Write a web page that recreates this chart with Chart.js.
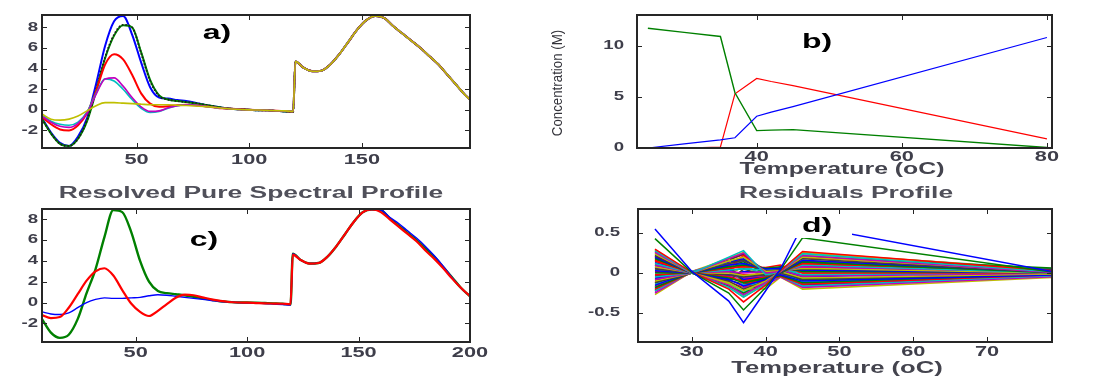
<!DOCTYPE html>
<html>
<head>
<meta charset="utf-8">
<script src="https://cdn.jsdelivr.net/npm/chart.js@4.4.1/dist/chart.umd.min.js"></script>
<style>
  html, body { margin: 0; padding: 0; background: #fff; }
  body { width: 1116px; height: 378px; position: relative; overflow: hidden; }
  canvas { position: absolute; }
</style>
</head>
<body>
<canvas id="panelA" width="540" height="185" style="left:0;top:0"></canvas>
<canvas id="panelB" width="576" height="185" style="left:540px;top:0"></canvas>
<canvas id="panelC" width="540" height="193" style="left:0;top:185px"></canvas>
<canvas id="panelD" width="576" height="193" style="left:540px;top:185px"></canvas>
<script>
// ---- spectral axis (channel index) ----
const wavelength = [8,12,16,20,24,28,32,36,40,44,48,52,56,60,64,68,72,76,80,84,88,92,96,100,104,108,112,116,119.5,
                    120.5,124,128,132,136,140,144,148,152,156,160,164,168,172,176,180,184,188,192,196,200];

// ---- a) measured spectra, first segment (8 .. 119.5) ----
const aBlueHead    = [-0.8,-2.2,-3.2,-3.5,-2.6,-0.8,2.5,6.2,8.6,9.1,7.3,4.6,2.2,1.2,1.1,0.95,0.85,0.7,0.5,0.35,0.2,0.1,0.05,0.0,-0.05,-0.05,-0.1,-0.15,-0.2];
const aGreenHead   = [-0.9,-2.3,-3.3,-3.5,-2.8,-1.1,1.8,5.0,7.2,8.2,8.0,5.6,2.9,1.4,1.0,0.85,0.75,0.65,0.5,0.35,0.2,0.1,0.05,0.0,-0.05,-0.05,-0.1,-0.15,-0.2];
const aBlackHead   = [-0.9,-2.3,-3.3,-3.5,-2.8,-1.0,1.9,5.1,7.3,8.25,8.0,5.5,2.8,1.35,1.0,0.85,0.75,0.65,0.5,0.35,0.2,0.1,0.05,0.0,-0.05,-0.05,-0.1,-0.15,-0.2];
const aRedHead     = [-0.7,-1.4,-1.9,-2.0,-1.5,-0.3,1.8,4.4,5.4,4.9,3.4,1.6,0.6,0.3,0.35,0.45,0.5,0.45,0.35,0.25,0.15,0.1,0.05,0.0,-0.02,-0.05,-0.08,-0.12,-0.15];
const aCyanHead    = [-0.5,-1.1,-1.4,-1.5,-1.2,-0.2,1.6,3.0,2.8,2.0,1.0,0.15,-0.25,-0.15,0.15,0.4,0.5,0.45,0.35,0.25,0.15,0.08,0.03,0.0,-0.02,-0.05,-0.08,-0.1,-0.15];
const aMagentaHead = [-0.6,-1.2,-1.6,-1.7,-1.3,-0.3,1.5,3.0,3.1,2.3,1.2,0.3,-0.15,-0.1,0.2,0.4,0.5,0.45,0.35,0.25,0.15,0.08,0.03,0.0,-0.02,-0.05,-0.08,-0.1,-0.15];
const aYellowHead  = [-0.4,-0.9,-1.0,-0.9,-0.6,-0.1,0.4,0.7,0.7,0.65,0.6,0.55,0.5,0.5,0.5,0.45,0.42,0.38,0.32,0.25,0.15,0.08,0.03,0.0,-0.02,-0.05,-0.08,-0.1,-0.15];
// ---- a) second segment (120.5 .. 200), common to all temperatures ----
const aTail        = [4.7,4.1,3.75,3.8,4.4,5.4,6.6,7.8,8.7,9.1,8.9,8.1,7.4,6.7,6.0,5.2,4.4,3.4,2.4,1.4,0.6];

// ---- c) resolved pure spectra ----
const cGreenHead = [-1.6,-2.9,-3.4,-3.1,-1.6,0.9,3.2,6.3,8.9,8.7,6.8,4.0,2.0,1.1,0.9,0.8,0.7,0.55,0.4,0.25,0.12,0.05,0.0,0.0,-0.02,-0.05,-0.08,-0.12,-0.2];
const cRedHead   = [-1.2,-1.5,-1.4,-0.5,0.8,2.1,3.0,3.3,2.6,1.2,-0.1,-0.9,-1.3,-0.8,-0.15,0.45,0.75,0.7,0.5,0.3,0.15,0.05,0.0,-0.02,-0.05,-0.08,-0.1,-0.12,-0.15];
const cBlueHead  = [-0.9,-1.1,-1.15,-1.0,-0.5,0.0,0.3,0.45,0.4,0.4,0.45,0.5,0.65,0.75,0.7,0.6,0.5,0.4,0.3,0.2,0.1,0.05,0.0,-0.03,-0.07,-0.1,-0.15,-0.2,-0.25];
const cGreenTail = [4.7,4.1,3.75,3.8,4.4,5.4,6.6,7.8,8.7,8.95,8.9,8.1,7.4,6.7,6.0,5.2,4.4,3.4,2.4,1.4,0.6];
const cBlueTail  = [4.7,4.1,3.75,3.8,4.4,5.4,6.6,7.8,8.7,8.95,8.9,8.2,7.6,6.9,6.2,5.4,4.5,3.5,2.4,1.4,0.6];
const cRedTail   = [4.6,4.1,3.75,3.8,4.4,5.4,6.6,7.8,8.7,8.95,8.7,8.0,7.3,6.6,5.9,5.0,4.2,3.3,2.3,1.4,0.6];

// ---- b) concentration profiles vs temperature ----
const temperature = [25, 30, 35, 37, 40, 42, 45, 80];
const concGreen = [11.7, 11.3, 10.9, 5.4, 1.7, 1.75, 1.8, 0.05];
const concRed   = [0, 0, 0.1, 5.3, 6.8, 6.5, 6.1, 0.9];
const concBlue  = [0, 0.4, 0.8, 1.0, 3.1, 3.5, 4.05, 10.8];

// ---- d) residuals, one row per channel, one column per temperature ----
const residuals = [
  [0.55, 0.02, -0.35, -0.62, -0.22, 0.05, 0.6, 0.0],
  [0.43, 0.01, -0.25, -0.46, -0.18, 0.04, 0.44, 0.0],
  [0.30, 0.01, -0.2, -0.36, -0.15, 0.03, 0.27, 0.02],
  [0.28, 0.0, -0.18, -0.3, -0.14, 0.03, 0.24, 0.01],
  [0.26, 0.0, -0.15, -0.27, -0.12, 0.02, 0.22, 0.0],
  [0.24, 0.0, -0.12, -0.22, -0.1, 0.02, 0.2, 0.01],
  [0.22, 0.0, -0.1, -0.2, -0.1, 0.01, 0.18, 0.0],
  [0.2, 0.0, -0.08, -0.16, -0.08, 0.01, 0.16, 0.01],
  [0.18, 0.0, -0.06, -0.12, -0.06, 0.0, 0.14, 0.0],
  [0.15, 0.0, -0.05, -0.1, -0.05, 0.0, 0.12, 0.02],
  [0.12, 0.0, 0.2, 0.28, -0.02, 0.0, 0.1, 0.0],
  [0.1, 0.0, 0.18, 0.25, 0.0, 0.02, 0.08, 0.01],
  [0.08, 0.0, 0.15, 0.2, 0.02, 0.03, 0.06, 0.0],
  [0.05, 0.0, 0.12, 0.16, 0.03, 0.04, 0.05, 0.02],
  [0.03, 0.0, 0.1, 0.12, 0.05, 0.06, 0.04, 0.0],
  [0.0, 0.0, 0.08, 0.1, 0.06, 0.08, 0.02, 0.01],
  [-0.02, 0.0, 0.06, 0.08, 0.07, 0.1, 0.0, 0.0],
  [-0.05, 0.0, 0.04, 0.05, 0.04, 0.06, -0.02, 0.01],
  [-0.08, 0.0, 0.02, 0.0, 0.02, 0.04, -0.04, 0.0],
  [-0.1, 0.0, 0.0, -0.03, 0.0, 0.02, -0.06, -0.01],
  [-0.12, 0.0, -0.02, -0.05, -0.02, 0.0, -0.08, 0.0],
  [-0.15, 0.01, 0.05, -0.08, -0.05, -0.02, -0.1, -0.02],
  [-0.18, 0.01, 0.08, -0.1, -0.08, -0.03, -0.12, -0.01],
  [-0.2, 0.01, 0.1, -0.12, -0.1, -0.04, -0.14, -0.02],
  [-0.22, 0.02, 0.12, -0.15, -0.12, -0.04, -0.16, -0.03],
  [-0.25, 0.02, 0.15, -0.18, -0.15, -0.05, -0.18, -0.04],
  [-0.27, 0.02, 0.18, -0.2, -0.2, -0.05, -0.2, -0.05],
  [0.1, 0.0, -0.1, 0.05, -0.03, 0.02, 0.09, 0.03],
  [-0.06, 0.0, 0.14, 0.18, 0.0, 0.03, -0.05, 0.04],
  [0.19, 0.0, -0.16, -0.25, -0.12, 0.0, 0.2, 0.06],
  [0.16, 0.0, 0.05, 0.22, 0.01, 0.05, 0.11, 0.03],
  [-0.14, 0.0, 0.11, 0.1, -0.04, 0.01, -0.11, -0.02],
  [0.07, 0.0, -0.04, -0.06, -0.03, 0.01, 0.07, 0.02],
  [0.25, 0.0, -0.14, -0.26, -0.11, 0.02, 0.23, 0.02],
  [-0.04, 0.0, 0.13, 0.2, 0.04, 0.06, 0.03, 0.05],
  [0.13, 0.0, -0.07, -0.09, -0.07, 0.01, 0.13, 0.04],
  [-0.09, 0.0, 0.09, 0.14, -0.01, 0.03, -0.07, -0.01],
  [0.21, 0.0, -0.11, -0.18, -0.09, 0.02, 0.19, 0.03],
  [0.04, 0.0, 0.03, 0.06, 0.03, 0.05, 0.01, 0.02],
  [-0.17, 0.01, 0.07, -0.07, -0.06, -0.01, -0.13, -0.03],
  [0.29, 0.0, -0.17, -0.3, -0.13, 0.03, 0.26, 0.03],
  [-0.07, 0.0, 0.16, 0.24, 0.0, 0.04, -0.03, 0.0],
  [0.09, 0.0, -0.03, 0.02, 0.01, 0.02, 0.06, 0.02],
  [-0.12, 0.0, 0.01, -0.04, -0.03, 0.0, -0.09, -0.02],
  [0.02, 0.0, 0.06, 0.09, 0.05, 0.07, 0.0, 0.01],
  [0.27, 0.0, -0.16, -0.28, -0.12, 0.02, 0.25, 0.04],
  [-0.23, 0.02, 0.14, -0.16, -0.13, -0.04, -0.17, -0.03],
  [0.11, 0.0, 0.19, 0.26, -0.01, 0.01, 0.09, 0.02],
  [0.17, 0.0, -0.09, -0.14, -0.07, 0.01, 0.15, 0.05],
  [-0.19, 0.01, 0.09, -0.11, -0.09, -0.03, -0.15, -0.02],
  [0.06, 0.0, 0.13, 0.17, 0.02, 0.04, 0.05, 0.03],
  [-0.11, 0.0, 0.03, -0.02, -0.01, 0.01, -0.07, -0.01],
  [0.23, 0.0, -0.13, -0.24, -0.1, 0.02, 0.21, 0.03],
  [-0.03, 0.0, 0.11, 0.15, 0.05, 0.07, 0.02, 0.04],
  [0.14, 0.0, -0.02, 0.08, -0.02, 0.03, 0.1, 0.02],
  [-0.21, 0.01, 0.13, -0.14, -0.11, -0.04, -0.15, -0.03],
  [0.01, 0.0, 0.07, 0.11, 0.04, 0.05, 0.01, 0.0],
  [-0.16, 0.0, 0.06, -0.06, -0.05, -0.01, -0.12, -0.02],
  [0.08, 0.0, 0.17, 0.23, 0.01, 0.03, 0.07, 0.03]
];

// ---- tick positions and labels ----
const spectrumTicksA = [50, 100, 150];
const spectrumTicksC = [50, 100, 150, 200];
const absorbTicks    = [-2, 0, 2, 4, 6, 8];
const tempTicksB     = [40, 60, 80];
const concTicks      = [0, 5, 10];
const tempTicksD     = [30, 40, 50, 60, 70];
const residTicks     = [-0.5, 0, 0.5];
const residTickLabels = ['-0.5', '0', '0.5'];

// classic MATLAB line colour order
const palette = ['#0000ff', '#008000', '#ff0000', '#00bfbf', '#bf00bf', '#bfbf00', '#404040'];

const TICK_FONT_Y = 'bold 12px "Liberation Sans", Arial, sans-serif';
const TICK_FONT_X = 'bold 15px "Liberation Sans", Arial, sans-serif';
const TEXT_COLOR = '#3e3e4a';

// draws text squeezed or widened horizontally by sx (sx applies along the text direction)
function stretchText(ctx, str, x, y, font, color, align, sx, rotate) {
  ctx.save();
  ctx.font = font;
  ctx.fillStyle = color;
  ctx.textBaseline = 'middle';
  ctx.textAlign = 'left';
  const w = ctx.measureText(str).width * sx;
  ctx.translate(x, y);
  if (rotate) ctx.rotate(-Math.PI / 2);
  const left = align === 'center' ? -w / 2 : (align === 'right' ? -w : 0);
  ctx.translate(left, 0);
  ctx.scale(sx, 1);
  ctx.fillText(str, 0, 0);
  ctx.restore();
}

// axes box with inward ticks on all four sides, tick labels and annotations
const framePlugin = {
  id: 'frame',
  afterDatasetsDraw(chart, args, o) {
    const { ctx, chartArea: a } = chart;
    const xs = chart.scales.x, ys = chart.scales.y;
    ctx.save();
    if (o.labelBox) {
      ctx.fillStyle = '#ffffff';
      const b = o.labelBox;
      ctx.fillRect(b[0], b[1], b[2], b[3]);
    }
    ctx.strokeStyle = '#262626';
    ctx.lineWidth = 1;
    ctx.beginPath();
    o.xTicks.forEach(v => {
      const px = Math.round(xs.getPixelForValue(v)) + 0.5;
      ctx.moveTo(px, a.bottom); ctx.lineTo(px, a.bottom - 5);
      ctx.moveTo(px, a.top); ctx.lineTo(px, a.top + 5);
    });
    o.yTicks.forEach(v => {
      const py = Math.round(ys.getPixelForValue(v)) + 0.5;
      ctx.moveTo(a.left, py); ctx.lineTo(a.left + 5, py);
      ctx.moveTo(a.right, py); ctx.lineTo(a.right - 5, py);
    });
    ctx.stroke();
    ctx.lineWidth = 2;
    ctx.strokeRect(a.left, a.top, a.right - a.left, a.bottom - a.top);

    o.xTicks.forEach((v, i) => {
      stretchText(ctx, o.xLabels ? o.xLabels[i] : String(v), xs.getPixelForValue(v), o.xLabelY,
                  TICK_FONT_X, TEXT_COLOR, 'center', 1.45);
    });
    o.yTicks.forEach((v, i) => {
      stretchText(ctx, o.yLabels ? o.yLabels[i] : String(v), o.yLabelRight, ys.getPixelForValue(v),
                  TICK_FONT_Y, TEXT_COLOR, 'right', 1.55);
    });
    (o.texts || []).forEach(t => {
      stretchText(ctx, t.text, t.x, t.y, t.font, t.color, 'center', t.sx, t.rotate);
    });
    ctx.restore();
  }
};

function points(xv, yv) { return xv.map((x, i) => ({ x, y: yv[i] })); }

function makeChart(id, datasets, c) {
  return new Chart(document.getElementById(id), {
    type: 'line',
    data: { datasets },
    options: {
      responsive: false,
      animation: false,
      devicePixelRatio: 1,
      layout: { padding: c.padding },
      plugins: { legend: { display: false }, tooltip: { enabled: false }, frame: c.frame },
      elements: { point: { radius: 0 } },
      scales: {
        x: {
          type: 'linear', min: c.xMin, max: c.xMax,
          grid: { display: false }, border: { display: false }, ticks: { display: false },
          afterFit(s) { s.height = c.xH; s.paddingLeft = 0; s.paddingRight = 0; }
        },
        y: {
          type: 'linear', min: c.yMin, max: c.yMax,
          grid: { display: false }, border: { display: false }, ticks: { display: false },
          afterFit(s) { s.width = c.yW; s.paddingTop = 0; s.paddingBottom = 0; }
        }
      }
    },
    plugins: [framePlugin]
  });
}

function spectrum(head, tail, color, width, order, dash) {
  return {
    data: points(wavelength, head.concat(tail)),
    borderColor: color, borderWidth: width, order,
    borderDash: dash || [], cubicInterpolationMode: 'monotone', fill: false
  };
}

const LABEL_FONT = 'bold 20px "Liberation Sans", Arial, sans-serif';
const TITLE_FONT = 'bold 16px "Liberation Sans", Arial, sans-serif';
const AXIS_FONT  = 'bold 16px "Liberation Sans", Arial, sans-serif';

// a) measured spectra at each temperature
makeChart('panelA', [
  spectrum(aYellowHead, aTail, palette[5], 1.6, 0),
  spectrum(aMagentaHead, aTail, palette[4], 1.6, 1),
  spectrum(aCyanHead, aTail, palette[3], 1.6, 2),
  spectrum(aRedHead, aTail, palette[2], 2, 3),
  spectrum(aBlackHead, aTail, '#1a1a1a', 1.8, 4, [1.5, 2]),
  spectrum(aGreenHead, aTail, palette[1], 2, 5),
  spectrum(aBlueHead, aTail, palette[0], 2, 6)
], {
  padding: { top: 15, right: 70, left: 0, bottom: 0 },
  xMin: 8, xMax: 198, yMin: -3.7, yMax: 9.2, xH: 37, yW: 42,
  frame: {
    xTicks: spectrumTicksA, yTicks: absorbTicks, xLabelY: 160, yLabelRight: 38,
    texts: [{ text: 'a)', x: 217, y: 33, font: LABEL_FONT, color: '#000', sx: 1.6 }]
  }
});

// b) concentration profiles
makeChart('panelB', [
  { data: points(temperature, concRed), borderColor: palette[2], borderWidth: 1.2, order: 2 },
  { data: points(temperature, concGreen), borderColor: palette[1], borderWidth: 1.4, order: 1 },
  { data: points(temperature, concBlue), borderColor: palette[0], borderWidth: 1.2, order: 0 }
], {
  padding: { top: 15, right: 64, left: 0, bottom: 0 },
  xMin: 23.5, xMax: 80.7, yMin: 0, yMax: 13, xH: 37, yW: 97,
  frame: {
    xTicks: tempTicksB, yTicks: concTicks, xLabelY: 157, yLabelRight: 84,
    texts: [
      { text: 'b)', x: 277, y: 42, font: LABEL_FONT, color: '#000', sx: 1.6 },
      { text: 'Temperature (oC)', x: 302, y: 170, font: AXIS_FONT, color: '#44444e', sx: 1.55 },
      { text: 'Concentration (M)', x: 18, y: 83, rotate: true, font: '14px "Liberation Sans", Arial, sans-serif', color: '#33333a', sx: 0.95 }
    ]
  }
});

// c) resolved pure spectral profiles
makeChart('panelC', [
  spectrum(cRedHead, cRedTail, palette[2], 2.2, 0),
  spectrum(cBlueHead, cBlueTail, palette[0], 1.4, 1),
  spectrum(cGreenHead, cGreenTail, palette[1], 2.4, 2)
], {
  padding: { top: 24, right: 70, left: 0, bottom: 0 },
  xMin: 8, xMax: 200, yMin: -3.8, yMax: 9.0, xH: 36, yW: 42,
  frame: {
    xTicks: spectrumTicksC, yTicks: absorbTicks, xLabelY: 168, yLabelRight: 38,
    texts: [
      { text: 'Resolved Pure Spectral Profile', x: 251, y: 9, font: TITLE_FONT, color: '#50505a', sx: 1.65 },
      { text: 'c)', x: 204, y: 55, font: LABEL_FONT, color: '#000', sx: 1.6 }
    ]
  }
});

// d) residuals
makeChart('panelD', residuals.map((row, i) => ({
  data: points(temperature, row),
  borderColor: palette[i % palette.length],
  borderWidth: 1.5,
  order: i
})), {
  padding: { top: 24, right: 64, left: 0, bottom: 0 },
  xMin: 22.7, xMax: 78.8, yMin: -0.86, yMax: 0.8, xH: 36, yW: 98,
  frame: {
    xTicks: tempTicksD, yTicks: residTicks, yLabels: residTickLabels, xLabelY: 167, yLabelRight: 80,
    labelBox: [253, 27, 59, 26],
    texts: [
      { text: 'Residuals Profile', x: 306, y: 9, font: TITLE_FONT, color: '#50505a', sx: 1.65 },
      { text: 'd)', x: 277, y: 41, font: LABEL_FONT, color: '#000', sx: 1.6 },
      { text: 'Temperature (oC)', x: 297, y: 184, font: AXIS_FONT, color: '#44444e', sx: 1.6 }
    ]
  }
});
</script>
</body>
</html>
